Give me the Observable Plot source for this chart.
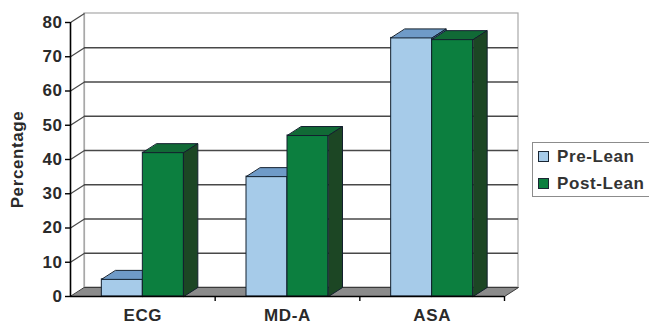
<!DOCTYPE html>
<html>
<head>
<meta charset="utf-8">
<script src="https://cdn.jsdelivr.net/npm/d3@7"></script>
<script src="https://cdn.jsdelivr.net/npm/@observablehq/plot@0.6"></script>
<style>
  html, body { margin: 0; padding: 0; background: #fff; }
  #wrap { position: relative; width: 649px; height: 325px; overflow: hidden; }
  #legend { position: absolute; left: 532px; top: 142px; width: 122px; height: 55px;
    border: 1px solid #8c8c8c; background: #fff; box-sizing: border-box;
    font-family: "Liberation Sans", Arial, sans-serif; font-weight: bold; font-size: 17px;
    letter-spacing: 0.6px; color: #333; }
  .sw { position: absolute; left: 5px; width: 9px; height: 9px; border: 1px solid #1a2633; }
  .lt { position: absolute; left: 24px; line-height: 17px; white-space: nowrap; }
</style>
</head>
<body>
<div id="wrap"></div>
<script>
const categories = ["ECG", "MD-A", "ASA"];
const preLean = [5, 35, 75.5];
const postLean = [42, 47, 75];
const seriesNames = ["Pre-Lean", "Post-Lean"];
const yTicks = [0, 10, 20, 30, 40, 50, 60, 70, 80];

const W = 649, H = 325;
const mL = 70, mR = 145, mT = 22, mB = 29;
const yMax = 80;
// 3D depth offsets in data units (14px right, 9px up)
const D = 14 / ((W - mL - mR) / categories.length);
const E = 9 / ((H - mT - mB) / yMax);
const barW = 41 / ((W - mL - mR) / categories.length);

const colors = {
  "Pre-Lean": { front: "#a6cbe9", top: "#6f9bc8", side: "#4d77a3" },
  "Post-Lean": { front: "#0c7f3f", top: "#116a36", side: "#1c4624" }
};

function barsFor(values, si) {
  return categories.map((c, i) => {
    const center = i + 0.5;
    const x1 = si === 0 ? center - barW : center;
    return { cat: c, x1, x2: x1 + barW, v: values[i] };
  });
}
const seriesBars = [barsFor(preLean, 0), barsFor(postLean, 1)];

function topPts(bars) {
  return bars.flatMap(b => [
    { id: b.cat, x: b.x1, y: b.v }, { id: b.cat, x: b.x2, y: b.v },
    { id: b.cat, x: b.x2 + D, y: b.v + E }, { id: b.cat, x: b.x1 + D, y: b.v + E }
  ]);
}
function sidePts(bars) {
  return bars.flatMap(b => [
    { id: b.cat, x: b.x2, y: 0 }, { id: b.cat, x: b.x2 + D, y: E },
    { id: b.cat, x: b.x2 + D, y: b.v + E }, { id: b.cat, x: b.x2, y: b.v }
  ]);
}

const n = categories.length;
const floorPts = [{ x: 0, y: 0 }, { x: n, y: 0 }, { x: n + D, y: E }, { x: D, y: E }];
const outline = "#13202e";

const barMarks = seriesBars.flatMap((bars, si) => {
  const c = colors[seriesNames[si]];
  return [
    Plot.rect(bars, { x1: "x1", x2: "x2", y1: 0, y2: "v", fill: c.front, stroke: outline, strokeWidth: 1 }),
    Plot.line(topPts(bars), { x: "x", y: "y", z: "id", curve: "linear-closed", fill: c.top, stroke: outline, strokeWidth: 1 }),
    Plot.line(sidePts(bars), { x: "x", y: "y", z: "id", curve: "linear-closed", fill: c.side, stroke: outline, strokeWidth: 1 })
  ];
});

const chart = Plot.plot({
  width: W, height: H,
  marginLeft: mL, marginRight: mR, marginTop: mT, marginBottom: mB,
  x: { domain: [0, n], label: null },
  y: { domain: [0, yMax], label: null },
  style: { fontFamily: "'Liberation Sans', Arial, sans-serif", fontSize: "17px", fontWeight: "bold", color: "#2a2a2a", background: "#fff", letterSpacing: "0.6px" },
  marks: [
    // back wall
    Plot.rect([0], { x1: D, x2: n + D, y1: E, y2: yMax + E, fill: "#fff", stroke: "#a8a8a8", strokeWidth: 1.2 }),
    Plot.ruleX([D], { y1: E, y2: yMax + E, stroke: "#a8a8a8", strokeWidth: 1.2 }),
    // gridlines on back wall
    Plot.ruleY(yTicks.filter(v => v > 0 && v < yMax), { y: v => v + E, x1: D, x2: n + D, stroke: "#484848", strokeWidth: 1.5 }),
    // left wall diagonals
    Plot.link(yTicks.filter(v => v > 0), { x1: 0, y1: v => v, x2: D, y2: v => v + E, stroke: "#484848", strokeWidth: 1.2 }),
    // floor
    Plot.line(floorPts, { x: "x", y: "y", curve: "linear-closed", fill: "#8b8b8b", stroke: "#3a3a3a", strokeWidth: 1 }),
    ...barMarks,
    // axes lines
    Plot.ruleX([0], { y1: 0, y2: yMax, stroke: "#000", strokeWidth: 1.6 }),
    Plot.ruleY([0], { x1: 0, x2: n, stroke: "#000", strokeWidth: 1.6 }),
    Plot.axisY(yTicks, { tickSize: 5, tickPadding: 3, label: null, stroke: "#000", strokeWidth: 1.4 }),
    Plot.axisX(d3.range(1, n + 1), { tickSize: 5, tickFormat: () => "", label: null, stroke: "#000", strokeWidth: 1.4 }),
    Plot.axisX(categories.map((c, i) => i + 0.5), { tickSize: 0, tickPadding: 12, tickFormat: v => categories[Math.floor(v)], label: null }),
    Plot.text(["Percentage"], { text: d => d, frameAnchor: "left", textAnchor: "middle", lineAnchor: "middle", rotate: -90, dx: -53, fill: "#2a2a2a" })
  ]
});

const wrap = document.getElementById("wrap");
wrap.appendChild(chart);

const legend = document.createElement("div");
legend.id = "legend";
const swTops = [8, 35];
const txtTops = [5, 32];
seriesNames.forEach((s, i) => {
  const sw = document.createElement("div");
  sw.className = "sw";
  sw.style.top = swTops[i] + "px";
  sw.style.background = colors[s].front;
  legend.appendChild(sw);
  const t = document.createElement("div");
  t.className = "lt";
  t.style.top = txtTops[i] + "px";
  t.textContent = s;
  legend.appendChild(t);
});
wrap.appendChild(legend);
</script>
</body>
</html>
